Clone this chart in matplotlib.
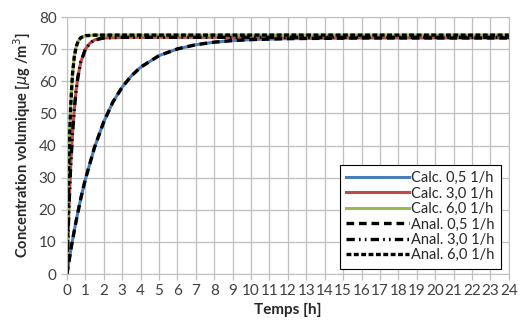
import matplotlib
matplotlib.use('Agg')
import matplotlib.pyplot as plt

plt.rcParams['font.family'] = ['Lato', 'DejaVu Sans']
plt.rcParams['lines.scale_dashes'] = False

# values (concentration in ug/m3 vs time in h)
t_05 = [0, 0.25, 0.5, 0.75, 1, 1.5, 2, 2.5, 3, 3.5, 4, 5, 6, 7, 8, 9, 10, 12, 14, 16, 18, 20, 22, 24]
c_05 = [0, 8.9, 16.6, 23.5, 29.5, 39.5, 47.4, 53.6, 58.2, 61.7, 64.4, 68.0, 70.1, 71.4, 72.2, 72.7, 73.0, 73.3, 73.4, 73.5, 73.5, 73.5, 73.5, 73.5]
t_30 = [0, 0.1, 0.2, 0.3, 0.4, 0.5, 0.6, 0.75, 1, 1.25, 1.5, 2, 3, 24]
c_30 = [0, 19.1, 33.3, 43.6, 51.3, 57.3, 61.5, 66.0, 70.0, 71.9, 72.9, 73.5, 73.7, 73.7]
t_60 = [0, 0.05, 0.1, 0.15, 0.2, 0.3, 0.4, 0.5, 0.6, 0.75, 1, 1.5, 24]
c_60 = [0, 19.3, 33.6, 44.2, 52.0, 62.2, 67.7, 70.7, 72.4, 73.6, 74.2, 74.4, 74.4]

labels_calc = ['Calc. 0,5 1/h', 'Calc. 3,0 1/h', 'Calc. 6,0 1/h']
labels_anal = ['Anal. 0,5 1/h', 'Anal. 3,0 1/h', 'Anal. 6,0 1/h']
x_ticks = list(range(0, 25))
y_ticks = list(range(0, 81, 10))

fig = plt.figure(figsize=(5.23, 3.29), dpi=100)
ax = fig.add_axes([0.128, 0.167, 0.845, 0.781])

grey = '#bfbfbf'
ax.plot(t_05, c_05, color='#4a7ebb', lw=2.2, label=labels_calc[0])
ax.plot(t_30, c_30, color='#be4b48', lw=2.2, label=labels_calc[1])
ax.plot(t_60, c_60, color='#98b954', lw=2.2, label=labels_calc[2])
ax.plot(t_05, c_05, color='black', lw=2.4, dashes=(5.5, 3.5), label=labels_anal[0])
ax.plot(t_30, c_30, color='black', lw=2.4, dashes=(6, 3, 1.2, 3, 1.2, 3), label=labels_anal[1])
ax.plot(t_60, c_60, color='black', lw=2.4, dashes=(3.5, 1.8), label=labels_anal[2])

ax.set_xlim(0, 24)
ax.set_ylim(0, 80)
ax.set_xticks(x_ticks)
ax.set_yticks(y_ticks)
ax.grid(True, color=grey, lw=0.9)
for s in ax.spines.values():
    s.set_color(grey)
ax.tick_params(axis='both', colors=grey, labelcolor='#404040', labelsize=11, length=4, width=0.9)
ax.set_xlabel('Temps [h]', fontsize=11, fontweight='bold', color='#262626', labelpad=3)
ax.set_ylabel(r'Concentration volumique [$\mu$g /m$^3$]', fontsize=10.5, fontweight='bold', color='#262626')

leg = ax.legend(loc='lower right', fontsize=10.5, frameon=True, fancybox=False, framealpha=1,
                edgecolor='black', handlelength=4.3, handletextpad=0.12, labelspacing=0.1,
                borderpad=0.45, borderaxespad=0, bbox_to_anchor=(0.982, 0.02))
leg.get_frame().set_linewidth(0.8)
for txt in leg.get_texts():
    txt.set_color('#262626')

fig.savefig('out.png', dpi=100)
